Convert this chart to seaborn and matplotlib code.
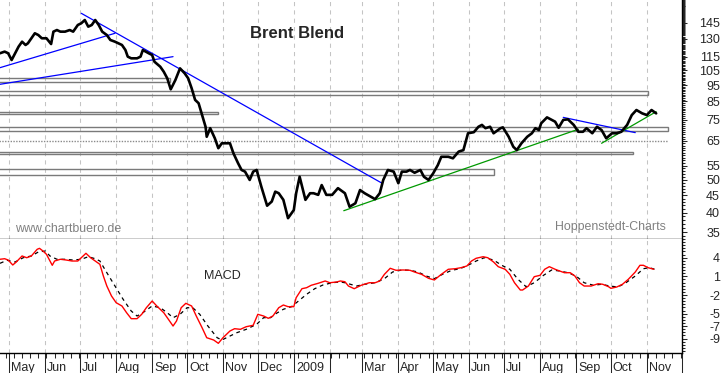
import numpy as np
import pandas as pd
import matplotlib
matplotlib.use('Agg')
import matplotlib.pyplot as plt
import matplotlib.dates as mdates
import matplotlib.ticker as mticker
import matplotlib.transforms as mtransforms
from matplotlib.patches import Rectangle
import seaborn as sns

# x positions are calendar days after START
START = pd.Timestamp('2008-04-23')
END = pd.Timestamp('2009-12-01')

# Brent Blend close (USD)
price_day = [0, 4, 7, 10, 13, 16, 19, 22, 24, 27,
             30, 33, 36, 40, 44, 46, 49, 52, 56, 60,
             63, 67, 70, 73, 76, 79, 82, 85, 88, 92,
             95, 99, 102, 105, 108, 110, 113, 118, 121, 123,
             128, 131, 133, 138, 141, 144, 147, 151, 155, 159,
             162, 165, 168, 171, 174, 177, 178, 181, 185, 188,
             191, 195, 198, 201, 205, 208, 211, 215, 218, 221,
             225, 230, 234, 237, 240, 244, 248, 253, 255, 258,
             263, 267, 270, 274, 277, 281, 286, 291, 297, 301,
             306, 310, 314, 319, 323, 327, 330, 334, 339, 343,
             346, 350, 353, 357, 362, 365, 369, 373, 377, 380,
             386, 390, 395, 399, 403, 408, 412, 415, 418, 422,
             425, 431, 433, 438, 442, 445, 449, 454, 458, 461,
             464, 466, 471, 475, 478, 481, 485, 489, 494, 498,
             502, 505, 510, 514, 518, 522, 527, 531, 535, 540,
             544, 548, 553, 557, 561, 565]
price_val = [117.9, 119.2, 117.9, 112.6, 117.9, 123.3, 127.5, 124.7, 126.1, 130.5,
             135.0, 133.4, 130.5, 130.5, 125.5, 136.5, 138.0, 136.5, 136.5, 138.0,
             136.5, 142.8, 144.5, 147.7, 141.2, 142.8, 147.7, 142.8, 136.5, 133.4,
             129.0, 127.5, 126.1, 124.7, 120.5, 115.2, 113.9, 113.9, 115.2, 120.5,
             117.9, 116.5, 111.3, 107.6, 104.0, 99.5, 92.3, 98.3, 106.4, 102.9,
             99.5, 93.0, 85.9, 84.0, 77.5, 71.6, 66.9, 70.9, 66.2, 61.9,
             64.0, 64.0, 64.0, 59.8, 55.9, 53.4, 52.8, 49.9, 52.8, 53.4,
             47.7, 41.9, 43.1, 46.1, 45.6, 43.6, 38.5, 40.7, 45.6, 51.0,
             43.6, 45.6, 45.6, 45.1, 48.2, 45.1, 45.1, 47.2, 45.6, 41.6,
             42.6, 46.6, 45.6, 44.6, 43.8, 45.6, 49.9, 53.4, 52.8, 48.8,
             52.8, 52.8, 53.4, 52.4, 53.4, 51.0, 49.9, 52.2, 55.2, 58.4,
             58.4, 57.8, 60.5, 61.1, 68.5, 69.0, 71.6, 72.5, 70.9, 71.6,
             68.5, 70.9, 71.3, 66.9, 62.5, 61.1, 64.0, 66.9, 68.5, 70.9,
             70.0, 73.3, 76.3, 75.0, 74.1, 71.1, 75.0, 75.3, 72.5, 69.2,
             69.2, 70.9, 68.5, 71.6, 70.0, 66.2, 68.5, 68.5, 69.2, 72.5,
             77.5, 80.2, 78.4, 77.5, 80.2, 78.4]

# MACD line (red)
macd_day = [0, 4, 7, 11, 14, 19, 23, 27, 32, 34,
            37, 40, 45, 47, 52, 57, 62, 67, 70, 74,
            78, 82, 86, 89, 92, 96, 100, 105, 109, 113,
            118, 122, 126, 131, 135, 141, 145, 149, 152, 156,
            160, 165, 169, 174, 178, 184, 188, 192, 198, 202,
            207, 212, 218, 222, 227, 231, 235, 240, 244, 248,
            253, 255, 260, 264, 268, 274, 280, 284, 290, 293,
            297,
            300, 305, 311, 318, 323, 327, 331, 336, 341, 347,
            353, 357, 363, 369, 374, 380, 386, 392, 397, 402,
            406, 410, 416, 420, 425, 429, 435, 439, 443, 448,
            450, 455, 460, 465, 469, 473, 478, 482, 486, 491,
            495, 499, 503, 509, 515, 519, 524, 526, 531, 536,
            541, 547, 551, 554, 558, 563]
macd_val = [3.75, 3.84, 3.63, 2.83, 3.31, 4.28, 4.00, 4.28, 5.35, 5.51,
            5.08, 4.55, 2.78, 3.47, 3.75, 3.63, 3.47, 3.47, 4.00, 4.71,
            4.00, 3.47, 2.94, 1.06, -0.55, -2.15, -3.23, -3.76, -4.84, -5.80,
            -5.80, -5.10, -4.04, -2.96, -3.76, -4.84, -5.90, -6.98, -6.17, -4.04,
            -3.33, -3.76, -5.37, -7.25, -8.86, -9.23, -9.76, -8.86, -7.78, -7.41,
            -7.51, -7.09, -6.86, -5.10, -5.37, -5.74, -5.37, -4.04, -3.60, -3.87,
            -3.87, -2.43, -0.98, -0.82, -0.43, -0.11, 0.26, -0.02, 0.10, 0.26,
            0.14,
            -0.55, -0.98, -0.43, -0.02, -0.02, 0.26, 1.33, 2.30, 1.98, 2.03,
            1.98, 1.70, 1.33, 0.69, 0.42, 1.33, 2.14, 2.23, 2.40, 2.67,
            3.47, 3.91, 4.16, 4.00, 3.31, 2.56, 2.14, 1.33, -0.02, -1.19,
            -1.19, -0.55, 0.95, 1.17, 2.14, 2.56, 2.14, 1.86, 1.59, 1.59,
            1.06, -0.02, -0.55, -0.55, -0.18, -0.27, -0.66, -0.92, -0.71, -0.27,
            0.53, 1.70, 2.78, 2.78, 2.40, 2.14]

# signal line (black dashed)
signal_day = [0, 6, 13, 20, 27, 33, 39, 43, 49, 56,
              63, 70, 76, 82, 86, 92, 99, 106, 113, 118,
              123, 131, 138, 144, 149, 155, 161, 166, 172, 179,
              187, 191, 198, 204, 212, 221, 227, 233, 238, 244,
              251, 257, 264, 271, 278, 286, 293, 297,
              300, 307, 314, 323, 331, 338, 346, 353, 360, 367,
              374, 381, 389, 396, 403, 410, 417, 425, 432, 439,
              446, 453, 460, 468, 475, 482, 489, 496, 503, 511,
              518, 525, 532, 539, 547, 554, 559, 564]
signal_val = [3.10, 3.59, 3.31, 4.00, 4.28, 4.92, 5.08, 4.28, 3.75, 3.75,
              3.63, 3.75, 4.16, 3.84, 3.47, 1.59, -0.55, -2.68, -4.57, -5.37,
              -4.84, -3.76, -4.04, -4.84, -5.64, -5.10, -4.04, -4.04, -5.10, -6.98,
              -8.86, -9.23, -8.59, -8.05, -7.51, -6.70, -5.64, -5.64, -4.94, -4.29,
              -3.87, -2.96, -1.88, -0.98, -0.39, -0.02, 0.10, -0.02,
              -0.18, -0.55, -0.27, -0.02, 0.63, 1.70, 2.03, 1.98, 1.70, 1.06,
              0.63, 1.33, 1.98, 2.23, 2.78, 3.47, 4.00, 3.63, 2.78, 2.14,
              0.53, -0.66, -0.02, 1.17, 2.03, 1.86, 1.59, 1.06, -0.02, -0.43,
              -0.27, -0.55, -0.71, -0.02, 1.06, 2.23, 2.40, 2.14]

# support / resistance boxes
band_low = [97.2, 88.8, 78.1, 69.6, 59.4, 51.6]
band_high = [99.5, 91.3, 79.0, 71.6, 60.5, 53.7]
band_end = [146, 558, 188, 575, 545, 425]
dotted_level = 64.9
dotted_end = 575

# trend lines
trend_day0 = [0, 0, 70, 485, 296, 518]
trend_val0 = [106.9, 95.5, 154.6, 76.3, 40.5, 64.0]
trend_day1 = [99, 149, 329, 547, 498, 565]
trend_val1 = [135.0, 115.2, 48.8, 68.8, 70.4, 79.3]
trend_color = ['#0000ff', '#0000ff', '#0000ff', '#0000ff', '#009900', '#009900']

price_ticks = [145, 130, 115, 105, 95, 85, 75, 65, 55, 50, 45, 40, 35]
macd_ticks = [4, 1, -2, -5, -7, -9]
month_labels = ['May', 'Jun', 'Jul', 'Aug', 'Sep', 'Oct', 'Nov', 'Dec', '2009', '',
                'Mar', 'Apr', 'May', 'Jun', 'Jul', 'Aug', 'Sep', 'Oct', 'Nov']


def to_dates(days):
    return START + pd.to_timedelta(days, unit='D')


sns.set_style('white')
plt.rcParams['font.family'] = ['Liberation Sans', 'DejaVu Sans']

fig = plt.figure(figsize=(7.23, 3.73), dpi=100)
ax = fig.add_axes([0, 0.3601, 0.9429, 0.6399])
ax2 = fig.add_axes([0, 0.0544, 0.9429, 0.3057], sharex=ax)

# --- price panel ---
ax.set_yscale('log')
for lo, hi, end in zip(band_low, band_high, band_end):
    x0 = mdates.date2num(START - pd.Timedelta(days=5))
    x1 = mdates.date2num(to_dates([end])[0])
    ax.add_patch(Rectangle((x0, lo), x1 - x0, hi - lo, fill=False,
                           ec='#7a7a7a', lw=1.0, zorder=2))
ax.hlines(dotted_level, START - pd.Timedelta(days=5), to_dates([dotted_end])[0],
          colors='#8a8a8a', linestyles=(0, (1, 1)), lw=1.0, zorder=2)

for d0, v0, d1, v1, c in zip(trend_day0, trend_val0, trend_day1, trend_val1, trend_color):
    ax.plot(to_dates([d0, d1]), [v0, v1], color=c, lw=0.9, zorder=3)

sns.lineplot(x=to_dates(price_day), y=price_val, ax=ax, color='black',
             lw=1.9, estimator=None, sort=False, zorder=4)

ax.set_ylim(33.5, 169.2)
ax.yaxis.tick_right()
ax.yaxis.set_major_locator(mticker.FixedLocator(price_ticks))
ax.yaxis.set_major_formatter(mticker.FuncFormatter(lambda v, _: f'{v:g}'))
ax.yaxis.set_minor_locator(mticker.FixedLocator(np.arange(34, 170)))
ax.yaxis.set_minor_formatter(mticker.NullFormatter())
ax.tick_params(axis='y', which='major', direction='out', length=3.6, width=0.75,
               pad=24, labelsize=9, right=True, left=False, labelright=True, labelleft=False)
ax.tick_params(axis='y', which='minor', direction='out', length=1.8, width=0.75,
               right=True, left=False)
ax.tick_params(axis='x', which='both', length=0, labelbottom=False)
ax.set_xlabel('')
ax.set_ylabel('')

ax.text(0.3667, 0.8576, 'Brent Blend', transform=ax.transAxes, fontsize=12,
        fontweight='bold', va='center', ha='left')
ax.text(0.022, 0.0293, 'www.chartbuero.de', transform=ax.transAxes, fontsize=8.9,
        color='#808080', va='baseline', ha='left')
ax.text(0.8141, 0.0364, 'Hoppenstedt-Charts', transform=ax.transAxes, fontsize=8.9,
        color='#808080', va='baseline', ha='left')

# --- MACD panel ---
sns.lineplot(x=to_dates(signal_day), y=signal_val, ax=ax2, color='black', lw=0.9,
             linestyle=(0, (3, 3)), estimator=None, sort=False)
sns.lineplot(x=to_dates(macd_day), y=macd_val, ax=ax2, color='#ff0000', lw=1.0,
             estimator=None, sort=False)
ax2.set_ylim(-11.27, 7.06)
ax2.yaxis.tick_right()
ax2.yaxis.set_major_locator(mticker.FixedLocator(macd_ticks))
ax2.yaxis.set_major_formatter(mticker.FuncFormatter(lambda v, _: f'{v:g}'))
ax2.yaxis.set_minor_locator(mticker.FixedLocator(np.arange(-11, 7.5, 0.5)))
ax2.tick_params(axis='y', which='major', direction='out', length=3.6, width=0.75,
                pad=24, labelsize=9, right=True, left=False, labelright=True, labelleft=False)
ax2.tick_params(axis='y', which='minor', direction='out', length=1.8, width=0.75,
                right=True, left=False)
ax2.set_xlabel('')
ax2.set_ylabel('')
ax2.text(0.2993, 0.644, 'MACD', transform=ax2.transAxes, fontsize=9,
         va='baseline', ha='left')

# shared date axis
ax2.set_xlim(START, END)
ax2.xaxis.set_major_locator(mdates.MonthLocator())
ax2.xaxis.set_minor_locator(mdates.WeekdayLocator(byweekday=mdates.MO))
ax2.xaxis.set_major_formatter(mticker.NullFormatter())
ax2.tick_params(axis='x', which='major', direction='out', length=14.6, width=0.75,
                bottom=True, top=False)
ax2.tick_params(axis='x', which='minor', direction='out', length=3.6, width=0.75,
                bottom=True, top=False)

for a in (ax, ax2):
    a.grid(axis='x', which='major', color='#c4c4c4', linestyle=(0, (4, 4)), linewidth=0.75)
    a.grid(axis='y', visible=False)
    a.spines['left'].set_visible(False)
    for s in ('right', 'bottom'):
        a.spines[s].set_linewidth(1.0)
        a.spines[s].set_color('black')
    plt.setp(a.get_yticklabels(), ha='right')
ax.spines['top'].set_visible(False)
ax2.spines['top'].set_visible(False)

month_starts = pd.date_range('2008-05-01', '2009-11-01', freq='MS')
lab_trans = mtransforms.offset_copy(ax2.get_xaxis_transform(), fig=fig, x=2, y=0, units='dots')
for d, lab in zip(month_starts, month_labels):
    ax2.text(mdates.date2num(d), -0.158, lab, transform=lab_trans, fontsize=9,
             ha='left', va='baseline', clip_on=False)

fig.savefig('out.png', dpi=100)
